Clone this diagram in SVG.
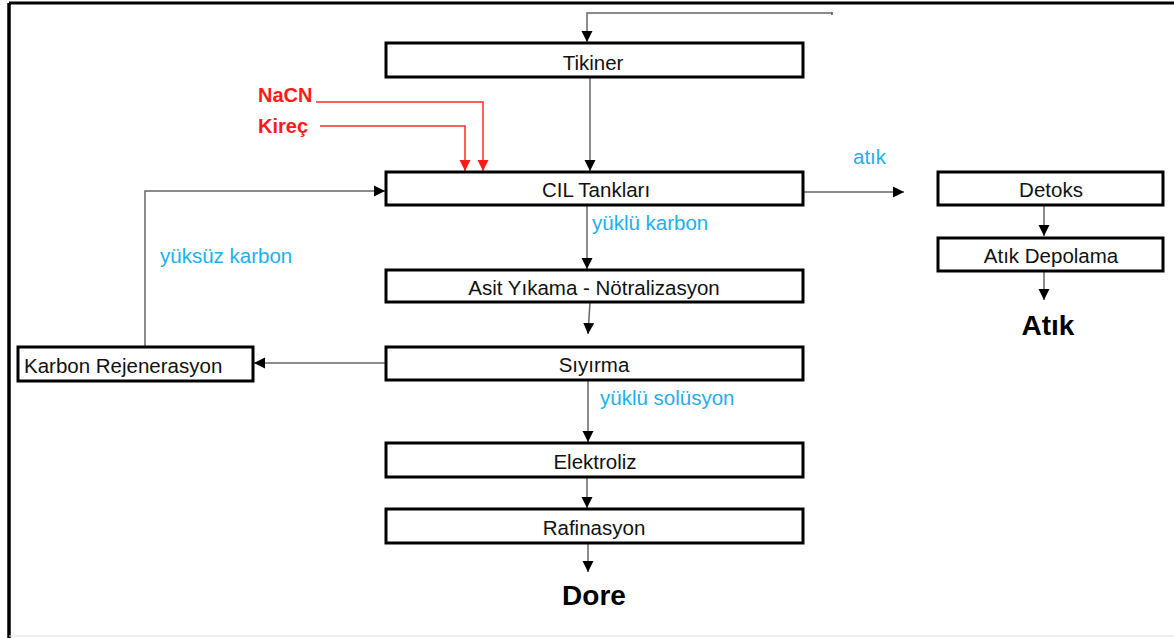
<svg xmlns="http://www.w3.org/2000/svg" width="1174" height="638" viewBox="0 0 1174 638">
<defs>
<marker id="ah" markerUnits="userSpaceOnUse" markerWidth="12" markerHeight="12" refX="11" refY="6" orient="auto"><path d="M0,0.5 L11,6 L0,11.5 z" fill="#000"/></marker>
<marker id="ahr" markerUnits="userSpaceOnUse" markerWidth="12" markerHeight="12" refX="11" refY="6" orient="auto"><path d="M0,0.5 L11,6 L0,11.5 z" fill="#ff1a1a"/></marker>
<style>
.box{fill:#fff;stroke:#000;stroke-width:3}
.t{font-family:"Liberation Sans",Arial,sans-serif;font-size:20.5px;fill:#111;text-anchor:middle}
.ts{font-family:"Liberation Sans",Arial,sans-serif;font-size:20.5px;fill:#111;text-anchor:start}
.b{font-family:"Liberation Sans",Arial,sans-serif;font-size:20.5px;fill:#1cb0ec}
.r{font-family:"Liberation Sans",Arial,sans-serif;font-size:20px;font-weight:bold;fill:#ff1a1a}
.big{font-family:"Liberation Sans",Arial,sans-serif;font-weight:bold;fill:#000;text-anchor:middle}
.c{fill:none;stroke:#666;stroke-width:1.5}
.cr{fill:none;stroke:#ff2a2a;stroke-width:1.5}
</style>
</defs>
<rect width="1174" height="638" fill="#fff"/>
<g id="frame">
<line x1="9" y1="3" x2="1174" y2="3" stroke="#000" stroke-width="3"/>
<line x1="9" y1="3" x2="9" y2="638" stroke="#000" stroke-width="3.5"/>
<line x1="9" y1="636" x2="1174" y2="636" stroke="#ddd" stroke-width="1"/>
</g>
<g id="connectors">
<path class="c" d="M832,13 H587 V42" marker-end="url(#ah)"/>
<line x1="832" y1="12" x2="832" y2="15" stroke="#555" stroke-width="1.5"/>
<path class="c" d="M590,78 V171" marker-end="url(#ah)"/>
<path class="cr" d="M316,102 H483 V171" marker-end="url(#ahr)"/>
<path class="cr" d="M320,126 H465 V171" marker-end="url(#ahr)"/>
<path class="c" d="M145,347 V191 H385" marker-end="url(#ah)"/>
<path class="c" d="M803,192 H904" marker-end="url(#ah)"/>
<path class="c" d="M1044,205 V236" marker-end="url(#ah)"/>
<path class="c" d="M1044,271 V300" marker-end="url(#ah)"/>
<path class="c" d="M587,205 V269" marker-end="url(#ah)"/>
<path class="c" d="M590,302 L588,334" marker-end="url(#ah)"/>
<path class="c" d="M386,363 H254" marker-end="url(#ah)"/>
<path class="c" d="M588,380 V442" marker-end="url(#ah)"/>
<path class="c" d="M587,477 V508" marker-end="url(#ah)"/>
<path class="c" d="M588,543 V572" marker-end="url(#ah)"/>
</g>
<g id="tikiner"><rect class="box" x="386" y="43" width="417" height="34"/><text class="t" x="593" y="70">Tikiner</text></g>
<g id="nacn"><text class="r" x="258" y="102">NaCN</text></g>
<g id="kirec"><text class="r" x="258" y="133">Kireç</text></g>
<g id="cil"><rect class="box" x="386" y="172" width="417" height="33"/><text class="t" x="596" y="197">CIL Tankları</text></g>
<g id="atik-label"><text class="b" x="853" y="164">atık</text></g>
<g id="detoks"><rect class="box" x="938" y="172" width="225" height="33"/><text class="t" x="1051" y="197">Detoks</text></g>
<g id="atik-depolama"><rect class="box" x="938" y="238" width="225" height="33"/><text class="t" x="1051" y="263">Atık Depolama</text></g>
<g id="atik"><text class="big" x="1048" y="335" font-size="28">Atık</text></g>
<g id="yuklu-karbon"><text class="b" x="592" y="230">yüklü karbon</text></g>
<g id="yuksuz-karbon"><text class="b" x="160" y="263">yüksüz karbon</text></g>
<g id="asit"><rect class="box" x="386" y="270" width="417" height="32"/><text class="t" x="594" y="295">Asit Yıkama - Nötralizasyon</text></g>
<g id="siyirma"><rect class="box" x="386" y="347" width="417" height="33"/><text class="t" x="594" y="372">Sıyırma</text></g>
<g id="karbon-rejenerasyon"><rect class="box" x="18" y="347" width="235" height="34"/><text class="ts" x="24" y="373">Karbon Rejenerasyon</text></g>
<g id="yuklu-solusyon"><text class="b" x="600" y="405">yüklü solüsyon</text></g>
<g id="elektroliz"><rect class="box" x="386" y="443" width="417" height="34"/><text class="t" x="595" y="469">Elektroliz</text></g>
<g id="rafinasyon"><rect class="box" x="386" y="509" width="417" height="34"/><text class="t" x="594" y="535">Rafinasyon</text></g>
<g id="dore"><text class="big" x="594" y="605" font-size="28">Dore</text></g>
</svg>
